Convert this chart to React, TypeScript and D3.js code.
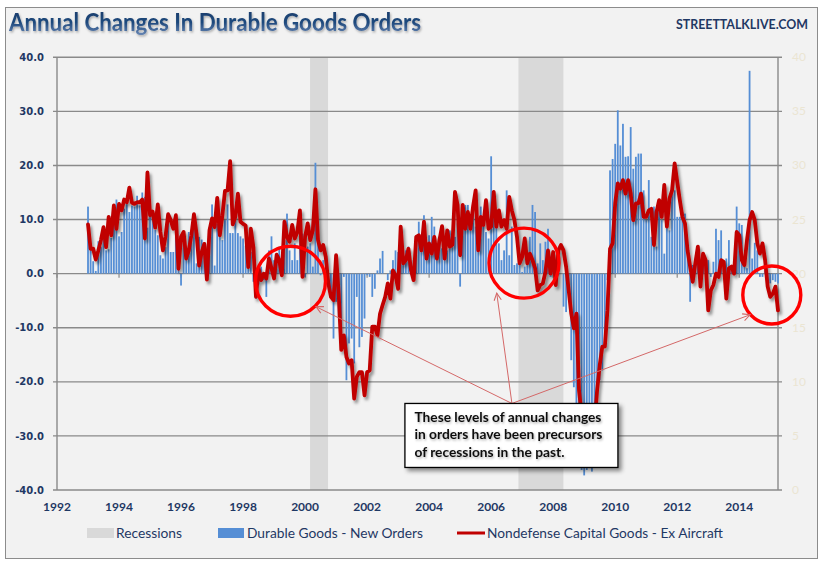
import * as d3 from "d3";

const FIRST_YEAR = 1993;

// Durable goods new orders, % change from a year earlier, monthly from Jan 1993
const durableGoodsOrders = [
  12.4, 5, 2.3, 0.5, 6, 5, 7.4, 4.3, 4.5, 6.6, 12.8, 13.7, // 1993
  6.9, 7.7, 12, 13, 11.4, 12.6, 12.4, 14.4, 12.6, 15, 14.2, 8.5, // 1994
  10.8, 11.2, 8.1, 7.1, 3.4, 2.8, 4.9, 10.5, 4, 4, 6.9, 0.9, // 1995
  -2.2, 6.5, 3.7, 7.7, 6.8, 10.5, 1.9, 6.8, 6.3, 5.5, 1.9, 8.6, // 1996
  12.8, 1.5, 9.2, 6.8, 6.2, 9.9, 12.8, 7.5, 7.5, 12, 7.5, 6.9, // 1997
  6.5, 5.2, 2.5, 4, -1.5, -4.6, -2, 1.3, -1.2, -4.3, 4.3, 6.9, // 1998
  2.5, 1.9, 5, 1.9, 6.2, 11.1, 4.3, 2.5, 5.6, 2.5, 9.9, 7.4, // 1999
  -0.6, 5, 5.6, 1.3, 20.5, 5.6, -0.3, 2.5, -1.8, -1.8, -4.3, -12, // 2000
  -5.2, -8, -11.4, -0.6, -19.7, -12.9, -12, -16.6, -4.3, -13.6, -11.7, -8.3, // 2001
  -0.3, -0.6, -4.3, -2.8, 0.6, 2.8, 4.2, 0, -1.2, 0.6, 2.5, 4.3, // 2002
  4, 7.4, 3.4, 4.3, 5, 0, 2.5, 6.8, 9.6, 4, 10.8, 3.7, // 2003
  7.1, 10.5, 8.7, 5.3, 6.8, 4.7, 6.2, 4.3, 8, 5, 6.8, 9.3, // 2004
  -2.4, 10.2, 12.7, 12.7, 8, 11.7, 8.7, 5, 12.4, 10.2, 7.7, 6.5, // 2005
  21.7, 14.2, 10.5, 5.6, 2.5, 4.3, 15.4, 3.4, 8.7, 1.6, 1.9, 2.5, // 2006
  0.3, 1.3, 4.3, 6.8, 12.7, 11.4, 1.9, 5.6, 2.5, 5.9, 8.3, -0.6, // 2007
  0.6, -1.8, -0.3, 0, -6.1, -7.1, -2.1, -16, -21, -30.8, -35.4, -36.3, // 2008
  -37.3, -36.3, -35.7, -36.6, -28.3, -24, -19.7, -17.9, -11.1, -1.2, 19.1, 21.2, // 2009
  24, 30.2, 23.7, 27.7, 21.6, 21.7, 27.1, 19.4, 21.6, 22.2, 22.2, 15.4, // 2010
  9.9, 17.3, 6.8, 12.4, 5, 13.6, 9.9, 3.7, 9.3, 8, 16.7, 15.4, // 2011
  10.5, 10.5, 11.4, 11.1, 4.3, -5.2, 1.6, 2.2, 5, 2.5, 1.6, 1.3, // 2012
  2.5, -0.6, 2.2, 8.3, 6.2, 8, 1.3, 2.8, 6.2, 1.3, 2.5, 12.4, // 2013
  9.3, 9, 2.5, 1, 37.5, 2.8, 5.7, 4.3, -0.6, -0.6, 0.6, -1.2, // 2014
  -1.8, -1.2, -1.5, -1.8, // 2015
];

// Nondefense capital goods ex aircraft, % change from a year earlier
const capitalGoodsExAircraft = [
  9.1, 4.6, 4.6, 2.6, 4.3, 6.2, 8.6, 4.9, 10.5, 7.1, 12.6, 8.3, // 1993
  12.9, 11.7, 13.7, 13.2, 15.9, 13.1, 12.9, 13.2, 13.2, 13.7, 6.5, 18.7, // 1994
  10.8, 11.5, 8.5, 12.8, 7.7, 4.3, 6.9, 11, 9.9, 8.3, 10.8, 0.9, // 1995
  6.8, 7.7, 2.8, 4.3, 7.1, 11, 7.4, 1.5, 4, 5.5, -1.1, 8, // 1996
  10.2, 8.6, 14, 7.1, 10.8, 15.3, 15.4, 20.8, 9.1, 10.5, 14.8, 9.6, // 1997
  9.2, 8.9, 1.2, 8.3, 4.9, -4.3, 1, -1.2, 0, -0.9, 2.8, 1, // 1998
  -0.9, 3.5, 2.5, -0.3, 9.6, 6.8, 5.9, 9, 6.5, 7.7, 11.7, -0.6, // 1999
  6.8, 9.3, 6.2, 8, 15.6, 6.2, 4.3, 5.3, 3.1, -1.8, -4.3, -4.9, // 2000
  3.4, -3.7, -14.1, -11.4, -15.4, -16.6, -16, -23.1, -19.1, -18.2, -18.2, -22.5, // 2001
  -18.2, -17.9, -9.8, -9.8, -11.4, -7.4, -5.8, -4.3, -1.8, -4.6, 0.6, -0.3, // 2002
  -2.8, 8.7, 1.9, 2.5, 4.6, 0.6, -1.2, 6.8, 7.1, 4.3, 9.6, 2.8, // 2003
  5.6, 3.7, 6.8, 2.8, 6.2, 8.8, 2.8, 8, 5, 5.3, 15.1, 12.7, // 2004
  3.4, 12.7, 8.3, 11.4, 8.3, 12.4, 15.4, 4.3, 10.5, 9, 13.6, 8.3, // 2005
  8.7, 15.1, 8.7, 11.7, 8.7, 9.9, 8.3, 14.2, 11.7, 9.9, 6.8, 1.9, // 2006
  3.1, 6.5, 1.9, 3.7, 2.5, 1, -3.1, -2.1, -1.8, 0.3, 4.3, 0, // 2007
  4, -2.1, 4.3, 5.3, 4.3, 1.3, -3.1, -7.4, -10.1, -7.4, -21.6, -26, // 2008
  -30, -34, -35, -33, -28, -21.6, -17, -13.5, -13.5, -6.8, 4.6, 5.6, // 2009
  13, 16.7, 15.7, 17.3, 14.8, 17.3, 14.8, 9.9, 13, 13, 14.8, 10.5, // 2010
  10.5, 11.7, 12, 5.3, 11.4, 13.6, 10.5, 16.4, 8.7, 13.9, 15.4, 20.4, // 2011
  17, 13.6, 10.5, 9.3, 4.3, 1.3, -1.5, 1.9, 5, -2.4, 3.7, 2.5, // 2012
  -6.8, -3.1, -2.1, 0, -0.6, 2.5, 2.2, -4.6, 1, 1.3, 0, 7.7, // 2013
  7.1, 2.5, 1.6, 6.2, 9.9, 11.4, 9.9, 5.6, 3.7, 5.6, 2.5, -2.4, // 2014
  -4.3, -3.7, -2.4, -6.8, // 2015
];

// shaded periods, decimal years
const recessions = [
  [2000.16, 2000.74],
  [2006.88, 2008.33],
];

const leftTicks = d3.range(-40, 41, 10);
const rightTicks = d3.range(0, 41, 5);
const yearTicks = d3.range(1992, 2015, 2);

// circled stretches and the arrow tips pointing at them
const callouts = [
  { year: 1999.53, value: -1.4, r: 35, tipYear: 2000.35, tipValue: -6.1 },
  { year: 2007.06, value: 1.95, r: 35, tipYear: 2006.18, tipValue: -3.6 },
  { year: 2015.05, value: -3.95, r: 29, tipYear: 2014.35, tipValue: -7.6 },
];
const noteAnchor = { year: 2006.67, value: -24 };
const noteLines = [
  "These levels of annual changes",
  "in orders have been precursors",
  "of recessions in the past.",
];
const noteWidths = [187, 188, 150];

const legendLabels = [
  "Recessions",
  "Durable Goods - New Orders",
  "Nondefense Capital Goods - Ex Aircraft",
];

const NAVY = "#1f3864";
const GRID = "#8a8a8a";
const BAR = "#558ed5";
const LINE = "#c00000";

const x = d3.scaleLinear().domain([1992, 2015.25]).range([57, 778]);
const y = d3.scaleLinear().domain([-40, 40]).range([490, 57.3]);
const yRight = d3.scaleLinear().domain([0, 40]).range([490, 57.3]);
const monthYear = (i: number) => FIRST_YEAR + i / 12;

export default function App() {
  const [x0, x1] = x.range();
  const [yBottom, yTop] = y.range();
  const barWidth = 1.8;

  const line = d3
    .line<number>()
    .x((_, i) => x(monthYear(i)))
    .y((d) => y(d));

  const ax = x(noteAnchor.year);
  const ay = y(noteAnchor.value);
  const box = { left: ax - 107, top: ay, width: 213, height: 64 };

  return (
    <svg
      width={824}
      height={564}
      style={{ position: "absolute", left: 0, top: 0, display: "block" }}
    >
      <defs>
        <linearGradient id="titleGrad" x1="0" y1="0" x2="0" y2="1">
          <stop offset="0%" stopColor="#1a3a66" />
          <stop offset="55%" stopColor="#1f497d" />
          <stop offset="100%" stopColor="#6d8bb8" />
        </linearGradient>
        <filter id="softShadow" x="-10%" y="-10%" width="120%" height="130%">
          <feDropShadow dx="2" dy="3" stdDeviation="1.6" floodColor="#000" floodOpacity="0.42" />
        </filter>
        <filter id="boxShadow" x="-10%" y="-10%" width="125%" height="135%">
          <feDropShadow dx="3" dy="3" stdDeviation="2" floodColor="#000" floodOpacity="0.45" />
        </filter>
        <filter id="textShadow" x="-5%" y="-20%" width="110%" height="150%">
          <feDropShadow dx="1" dy="1.5" stdDeviation="0.8" floodColor="#000" floodOpacity="0.3" />
        </filter>
        <marker
          id="arrowHead"
          viewBox="0 0 10 10"
          refX="9"
          refY="5"
          markerWidth="9"
          markerHeight="9"
          markerUnits="userSpaceOnUse"
          orient="auto"
        >
          <path d="M1,1 L9,5 L1,9" fill="none" stroke="#d46868" strokeWidth={1.2} />
        </marker>
      </defs>

      <rect x={0} y={0} width={824} height={564} fill="#fff" />
      <rect x={5.5} y={7.5} width={812} height={551} fill="#f2f2f2" stroke="#8c8c8c" strokeWidth={1} />

      <text
        x={9}
        y={31}
        fontFamily="Lato, 'Open Sans', sans-serif"
        fontWeight={700}
        fontSize={25}
        textLength={412}
        lengthAdjust="spacingAndGlyphs"
        fill="url(#titleGrad)"
        filter="url(#textShadow)"
      >
        Annual Changes In Durable Goods Orders
      </text>
      <text
        x={676}
        y={29}
        fontFamily="Lato, 'Open Sans', sans-serif"
        fontWeight={700}
        fontSize={14}
        textLength={132}
        lengthAdjust="spacingAndGlyphs"
        fill={NAVY}
      >
        STREETTALKLIVE.COM
      </text>

      {/* recession shading */}
      {recessions.map(([a, b], i) => (
        <rect key={i} x={x(a)} y={yTop} width={x(b) - x(a)} height={yBottom - yTop} fill="#d9d9d9" />
      ))}

      {/* gridlines and axis ticks */}
      {leftTicks.map((t) => (
        <line key={t} x1={x0 - 4} x2={x1 + 4} y1={y(t)} y2={y(t)} stroke={GRID} strokeWidth={1.4} />
      ))}
      <line x1={x0} x2={x0} y1={yTop} y2={yBottom} stroke={GRID} strokeWidth={1.4} />
      <line x1={x1} x2={x1} y1={yTop} y2={yBottom} stroke={GRID} strokeWidth={1.4} />
      {yearTicks.map((yr) => (
        <line key={yr} x1={x(yr)} x2={x(yr)} y1={y(0)} y2={y(0) + 4} stroke={GRID} strokeWidth={1.2} />
      ))}

      {leftTicks.map((t) => (
        <text
          key={t}
          x={44}
          y={y(t) + 3.6}
          textAnchor="end"
          fontFamily="'DejaVu Sans', sans-serif"
          fontWeight={700}
          fontSize={10}
          fill={NAVY}
        >
          {t.toFixed(1)}
        </text>
      ))}
      {rightTicks.map((t) => (
        <text
          key={t}
          x={792}
          y={yRight(t) + 4}
          fontFamily="Lato, sans-serif"
          fontSize={12}
          fill="#ebe5d2"
        >
          {t}
        </text>
      ))}
      {yearTicks.map((yr) => (
        <text
          key={yr}
          x={x(yr)}
          y={511}
          textAnchor="middle"
          fontFamily="Lato, sans-serif"
          fontWeight={700}
          fontSize={12}
          fill={NAVY}
        >
          {yr}
        </text>
      ))}

      {/* durable goods bars */}
      {durableGoodsOrders.map((v, i) => (
        <rect
          key={i}
          x={x(monthYear(i)) - barWidth / 2}
          y={y(Math.max(0, v))}
          width={barWidth}
          height={Math.abs(y(v) - y(0))}
          fill={BAR}
        />
      ))}

      {/* capital goods line */}
      <path
        d={line(capitalGoodsExAircraft) ?? ""}
        fill="none"
        stroke={LINE}
        strokeWidth={3.8}
        strokeLinejoin="round"
        strokeLinecap="round"
        filter="url(#softShadow)"
      />

      {/* circled periods */}
      {callouts.map((c, i) => (
        <circle
          key={i}
          cx={x(c.year)}
          cy={y(c.value)}
          r={c.r}
          fill="none"
          stroke="#ff0000"
          strokeWidth={3.4}
        />
      ))}
      {callouts.map((c, i) => (
        <line
          key={i}
          x1={ax}
          y1={ay}
          x2={x(c.tipYear)}
          y2={y(c.tipValue)}
          stroke="#d46868"
          strokeWidth={1}
          markerEnd="url(#arrowHead)"
        />
      ))}

      {/* note box */}
      <rect
        x={box.left}
        y={box.top}
        width={box.width}
        height={box.height}
        fill="#fff"
        stroke="#000"
        strokeWidth={1.3}
        filter="url(#boxShadow)"
      />
      {noteLines.map((t, i) => (
        <text
          key={i}
          x={box.left + 9.5}
          y={box.top + 18.5 + i * 17.5}
          fontFamily="Lato, sans-serif"
          fontWeight={700}
          fontSize={14}
          textLength={noteWidths[i]}
          lengthAdjust="spacingAndGlyphs"
          fill="#111"
          filter="url(#textShadow)"
        >
          {t}
        </text>
      ))}

      {/* legend */}
      <rect x={87} y={528} width={27} height={10} fill="#d9d9d9" />
      <text x={116} y={538} fontFamily="Lato, sans-serif" fontSize={13} fill={NAVY} textLength={66} lengthAdjust="spacingAndGlyphs">
        {legendLabels[0]}
      </text>
      <rect x={218} y={528} width={26} height={10} fill={BAR} />
      <text x={247} y={538} fontFamily="Lato, sans-serif" fontSize={13} fill={NAVY} textLength={176} lengthAdjust="spacingAndGlyphs">
        {legendLabels[1]}
      </text>
      <line x1={457} x2={485} y1={533} y2={533} stroke={LINE} strokeWidth={3} />
      <text x={487} y={538} fontFamily="Lato, sans-serif" fontSize={13} fill={NAVY} textLength={236} lengthAdjust="spacingAndGlyphs">
        {legendLabels[2]}
      </text>
    </svg>
  );
}
